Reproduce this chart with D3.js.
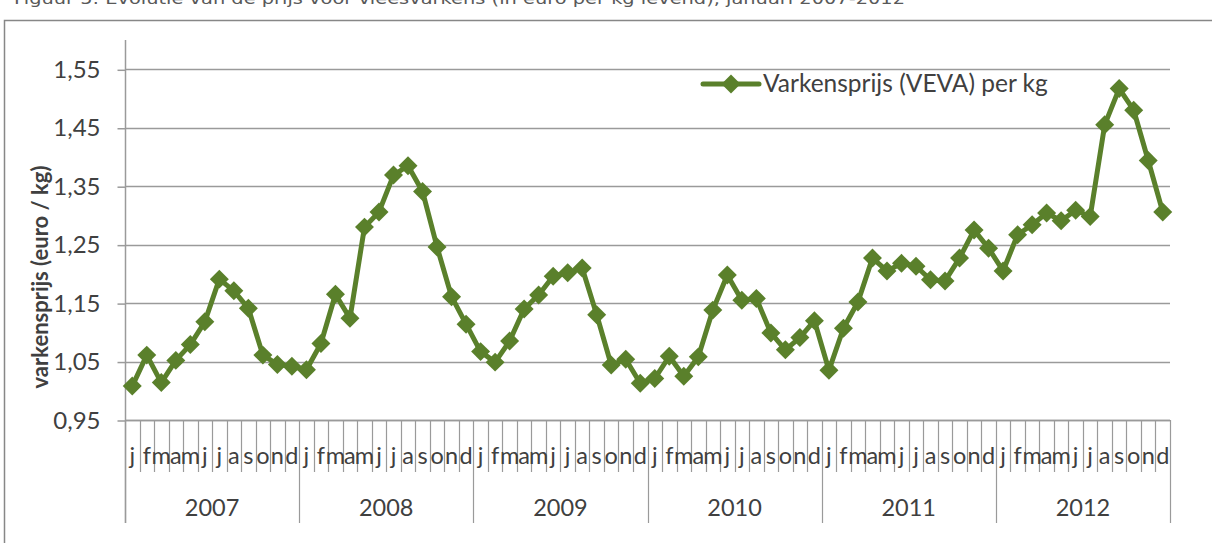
<!DOCTYPE html>
<html><head><meta charset="utf-8">
<script src="https://cdn.jsdelivr.net/npm/d3@7/dist/d3.min.js"></script>
<style>
html,body{margin:0;padding:0;background:#fff;}
svg{display:block;}
</style></head>
<body>
<script>
const years = ["2007","2008","2009","2010","2011","2012"];
const monthLabels = ["j","f","m","a","m","j","j","a","s","o","n","d"];
const prices2007 = [1.008,1.061,1.014,1.052,1.079,1.118,1.191,1.171,1.141,1.061,1.045,1.042];
const prices2008 = [1.036,1.081,1.165,1.124,1.280,1.306,1.369,1.385,1.341,1.246,1.161,1.114];
const prices2009 = [1.067,1.049,1.085,1.140,1.164,1.196,1.202,1.210,1.130,1.044,1.054,1.013];
const prices2010 = [1.021,1.059,1.025,1.058,1.138,1.198,1.155,1.158,1.099,1.070,1.091,1.120];
const prices2011 = [1.035,1.107,1.152,1.227,1.205,1.218,1.213,1.190,1.188,1.227,1.275,1.244];
const prices2012 = [1.205,1.267,1.284,1.304,1.291,1.309,1.298,1.455,1.517,1.480,1.394,1.306];
const yTicks = [0.95,1.05,1.15,1.25,1.35,1.45,1.55];
const seriesName = "Varkensprijs (VEVA) per kg";
const titleText = "Figuur 5: Evolutie van de prijs voor vleesvarkens (in euro per kg levend), januari 2007-2012";
const yTitle = "varkensprijs (euro / kg)";

const values = [].concat(prices2007,prices2008,prices2009,prices2010,prices2011,prices2012);
const data = values.map((v,i)=>({i, v, month: monthLabels[i%12], year: years[Math.floor(i/12)]}));

const W=1212,H=543;
const green="#5a802b", grid="#9a9a9a", txt="#404040";
const svg=d3.select("body").append("svg").attr("width",W).attr("height",H);

// title (partially cut off at top, as in the reference)
svg.append("text").attr("x",14).attr("y",4).attr("font-family","DejaVu Sans").attr("font-size",15)
  .attr("fill","#595959").attr("textLength",891).attr("lengthAdjust","spacingAndGlyphs").text(titleText);

// outer border
svg.append("rect").attr("x",4.5).attr("y",20.5).attr("width",1230).attr("height",540)
  .attr("fill","none").attr("stroke","#878787").attr("stroke-width",1.5);

const x=d3.scaleBand().domain(d3.range(values.length)).range([125,1170]).padding(0);
const y=d3.scaleLinear().domain([0.95,1.55]).range([420,69.3]);
const fmt=d3.formatLocale({decimal:",",thousands:".",grouping:[3],currency:["€",""]}).format(".2f");

// gridlines
svg.append("g").selectAll("line").data(yTicks).join("line")
  .attr("x1",125).attr("x2",1170).attr("y1",d=>Math.round(y(d))+0.5).attr("y2",d=>Math.round(y(d))+0.5)
  .attr("stroke",grid).attr("stroke-width",1.5);

// y axis
const yAxis=svg.append("g").attr("transform","translate(125.5,0.5)")
  .call(d3.axisLeft(y).tickValues(yTicks).tickFormat(fmt).tickSize(8).tickPadding(17));
yAxis.select(".domain").remove();
yAxis.selectAll(".tick line").attr("stroke",grid).attr("stroke-width",1.5);
yAxis.selectAll(".tick text").attr("font-family","Lato").attr("font-size",24).attr("fill",txt);
svg.append("line").attr("x1",125.5).attr("x2",125.5).attr("y1",40).attr("y2",523)
  .attr("stroke",grid).attr("stroke-width",1.5);

// x axis line
svg.append("line").attr("x1",125).attr("x2",1170).attr("y1",420.5).attr("y2",420.5)
  .attr("stroke",grid).attr("stroke-width",1.5);

// category separators
const bounds=d3.range(values.length+1);
const bx=k=> k<values.length ? x(k) : x.range()[1];
svg.append("g").selectAll("line").data(bounds).join("line")
  .attr("x1",k=>Math.round(bx(k))+0.5).attr("x2",k=>Math.round(bx(k))+0.5)
  .attr("y1",420).attr("y2",k=> k%12===0 ? 523 : 472)
  .attr("stroke",grid).attr("stroke-width",1.2);

// month labels
svg.append("g").selectAll("text").data(data).join("text")
  .attr("x",d=>x(d.i)+x.bandwidth()/2).attr("y",464).attr("text-anchor","middle")
  .attr("font-family","Lato").attr("font-size",23.5).attr("fill",txt).text(d=>d.month);

// year labels
svg.append("g").selectAll("text").data(years).join("text")
  .attr("x",(d,j)=>(bx(j*12)+bx(j*12+12))/2).attr("y",516).attr("text-anchor","middle")
  .attr("font-family","Lato").attr("font-size",23.5).attr("fill",txt).text(d=>d);

// y title
svg.append("text").attr("transform","translate(48,277) rotate(-90)").attr("text-anchor","middle")
  .attr("font-family","Lato").attr("font-weight","bold").attr("font-size",22).attr("fill",txt).text(yTitle);

// line
const cx=d=>x(d.i)+x.bandwidth()/2;
svg.append("path").datum(data).attr("fill","none").attr("stroke",green).attr("stroke-width",5)
  .attr("stroke-linejoin","round")
  .attr("d",d3.line().x(cx).y(d=>y(d.v)));
const diamond=d3.symbol(d3.symbolSquare,180)();
svg.append("g").selectAll("path").data(data).join("path")
  .attr("d",diamond).attr("fill",green)
  .attr("transform",d=>`translate(${cx(d)},${y(d.v)}) rotate(45)`);

// legend
const lg=svg.append("g");
lg.append("line").attr("x1",703).attr("x2",759).attr("y1",84).attr("y2",84)
  .attr("stroke",green).attr("stroke-width",5).attr("stroke-linecap","round");
lg.append("path").attr("d",diamond).attr("fill",green).attr("transform","translate(731,84) rotate(45)");
lg.append("text").attr("x",763).attr("y",92).attr("font-family","Lato").attr("font-size",24.5)
  .attr("fill",txt).text(seriesName);
</script>
</body></html>
